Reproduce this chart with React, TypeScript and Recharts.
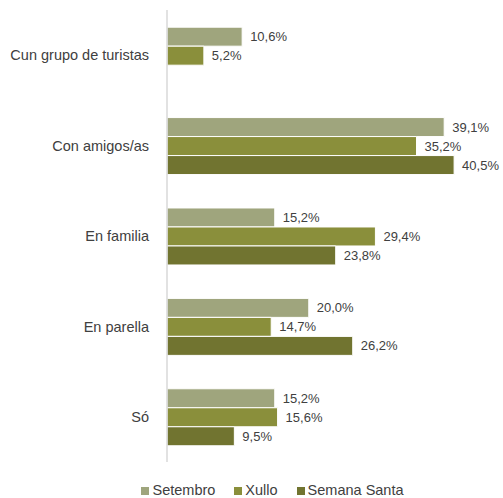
import React from 'react';
import { BarChart, Bar, XAxis, YAxis, Legend, LabelList } from 'recharts';

const categories = ['Cun grupo de turistas', 'Con amigos/as', 'En familia', 'En parella', 'Só'];
const setembro = [10.6, 39.1, 15.2, 20.0, 15.2];
const xullo = [5.2, 35.2, 29.4, 14.7, 15.6];
const semanaSanta: (number | null)[] = [null, 40.5, 23.8, 26.2, 9.5];

const seriesNames = ['Setembro', 'Xullo', 'Semana Santa'];
const seriesColors = ['#9fa57d', '#8a8f3b', '#717430'];

const data = categories.map((name, i) => ({
  name,
  setembro: setembro[i],
  xullo: xullo[i],
  semanaSanta: semanaSanta[i],
}));

const fmt = (v: any) => (v == null ? '' : `${Number(v).toFixed(1).replace('.', ',')}%`);

// legend built from our own series order (recharts sorts its payload by name)
const renderLegend = () => (
  <div style={{ display: 'flex', justifyContent: 'center', gap: 19, fontSize: 14.5, lineHeight: '15px', color: '#404040' }}>
    {seriesNames.map((n, i) => (
      <div key={n} style={{ display: 'flex', alignItems: 'center' }}>
        <span style={{ display: 'inline-block', width: 8, height: 8, background: seriesColors[i], marginRight: 3 }} />
        <span>{n}</span>
      </div>
    ))}
  </div>
);

const App: React.FC = () => {
  return (
    <div style={{ position: 'absolute', left: 0, top: 0, width: 503, height: 498, background: '#fff', fontFamily: '"Liberation Sans", Arial, sans-serif' }}>
      <BarChart
        width={503}
        height={498}
        data={data}
        layout="vertical"
        margin={{ top: 10, right: 17, left: 0, bottom: 0 }}
        barCategoryGap="19%"
        barGap={0}
      >
        <XAxis type="number" domain={[0, 45]} hide />
        <YAxis
          type="category"
          dataKey="name"
          width={167}
          axisLine={{ stroke: '#d9d9d9', strokeWidth: 1.5 }}
          tickLine={false}
          tickMargin={12}
          tick={{ fontSize: 14.5, fill: '#404040' }}
        />
        <Legend height={36} verticalAlign="bottom" content={renderLegend} wrapperStyle={{ top: 483, left: 21, width: 503 }} />
        <Bar dataKey="setembro" name={seriesNames[0]} fill={seriesColors[0]} stroke="#fff" strokeWidth={1} isAnimationActive={false}>
          <LabelList dataKey="setembro" position="right" offset={8} formatter={fmt} style={{ fontSize: 13, fill: '#404040' }} />
        </Bar>
        <Bar dataKey="xullo" name={seriesNames[1]} fill={seriesColors[1]} stroke="#fff" strokeWidth={1} isAnimationActive={false}>
          <LabelList dataKey="xullo" position="right" offset={8} formatter={fmt} style={{ fontSize: 13, fill: '#404040' }} />
        </Bar>
        <Bar dataKey="semanaSanta" name={seriesNames[2]} fill={seriesColors[2]} stroke="#fff" strokeWidth={1} isAnimationActive={false}>
          <LabelList dataKey="semanaSanta" position="right" offset={8} formatter={fmt} style={{ fontSize: 13, fill: '#404040' }} />
        </Bar>
      </BarChart>
    </div>
  );
};

export default App;
